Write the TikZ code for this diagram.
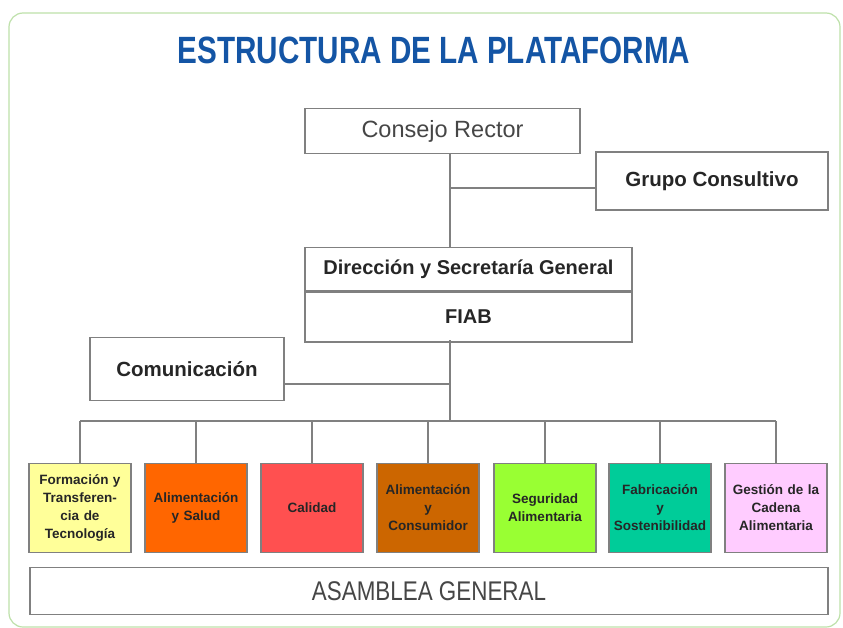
\documentclass[tikz,border=0pt]{standalone}
\usepackage{fontspec}
\setmainfont{Liberation Sans}
\usetikzlibrary{positioning}
\definecolor{framegreen}{RGB}{190,225,170}
\definecolor{titleblue}{RGB}{20,85,165}
\definecolor{boxgray}{RGB}{128,128,128}
\definecolor{txtgray}{RGB}{70,70,70}
\definecolor{cA}{RGB}{255,255,153}
\definecolor{cB}{RGB}{255,102,0}
\definecolor{cC}{RGB}{255,80,80}
\definecolor{cD}{RGB}{204,102,0}
\definecolor{cE}{RGB}{153,255,51}
\definecolor{cF}{RGB}{0,204,153}
\definecolor{cG}{RGB}{255,204,255}
\tikzset{
  orgbox/.style={draw=boxgray, line width=1.6pt, fill=white, inner sep=0pt, align=center},
  area/.style={draw=boxgray, line width=1.6pt, inner sep=0pt, align=center,
    minimum width=102pt, minimum height=89pt, text width=100pt,
    font=\fontsize{13.5}{18}\selectfont\bfseries, text=black!85},
  link/.style={draw=boxgray, line width=1.6pt}
}
\begin{document}
\begin{tikzpicture}[x=1pt,y=-1pt]
\useasboundingbox (0,0) rectangle (843,627);
\fill[white] (0,0) rectangle (843,627);
\draw[framegreen, line width=1.2pt, rounded corners=14pt] (9,13) rectangle (840,627);
\node[text=titleblue, font=\fontsize{38}{38}\selectfont\bfseries] (title) at (434,50)
  {\scalebox{0.78}[1]{ESTRUCTURA DE LA PLATAFORMA}};

\node[orgbox, minimum width=275pt, minimum height=45pt,
  font=\fontsize{23.5}{23.5}\selectfont, text=txtgray] (consejo) at (442.5,131) {Consejo Rector};
\node[orgbox, minimum width=232pt, minimum height=58pt,
  font=\fontsize{20.5}{20.5}\selectfont\bfseries, text=black!85] (grupo) at (712,181) {Grupo Consultivo};

\node[orgbox, minimum width=327pt, minimum height=43pt,
  font=\fontsize{20}{20}\selectfont\bfseries, text=black!85] (dir) at (468.5,269) {Dirección y Secretaría General};
\node[orgbox, minimum width=327pt, minimum height=50pt,
  font=\fontsize{20}{20}\selectfont\bfseries, text=black!85, anchor=north] (fiab) at (dir.south) {FIAB};

\node[orgbox, minimum width=194pt, minimum height=63pt,
  font=\fontsize{20.5}{20.5}\selectfont\bfseries, text=black!85] (com) at (187,369) {Comunicación};

\coordinate (j1) at (450,154);
\coordinate (jg) at (450,188);
\coordinate (jc) at (450,384);
\coordinate (bus) at (450,421);

\draw[link] (j1) -- (450,247);
\draw[link] (jg) -- (jg -| grupo.west);
\draw[link] (450,340) -- (bus);
\draw[link] (com.east |- jc) -- (jc);

\node[area, fill=cA] (a1) at (80,508) {Formación y\\Transferen-\\cia de\\Tecnología};
\node[area, fill=cB] (a2) at (196,508) {Alimentación\\y Salud};
\node[area, fill=cC] (a3) at (312,508) {Calidad};
\node[area, fill=cD] (a4) at (428,508) {Alimentación\\y\\Consumidor};
\node[area, fill=cE] (a5) at (545,508) {Seguridad\\Alimentaria};
\node[area, fill=cF] (a6) at (660,508) {Fabricación\\y\\Sostenibilidad};
\node[area, fill=cG] (a7) at (776,508) {Gestión de la\\Cadena\\Alimentaria};

\draw[link] (a1.north |- bus) -- (a7.north |- bus);
\foreach \n in {a1,a2,a3,a4,a5,a6,a7} {
  \draw[link] (\n.north |- bus) -- (\n.north);
}

\node[orgbox, minimum width=798pt, minimum height=47pt,
  font=\fontsize{27}{27}\selectfont, text=txtgray] (asamblea) at (429,591)
  {\scalebox{0.83}[1]{ASAMBLEA GENERAL}};
\end{tikzpicture}
\end{document}
